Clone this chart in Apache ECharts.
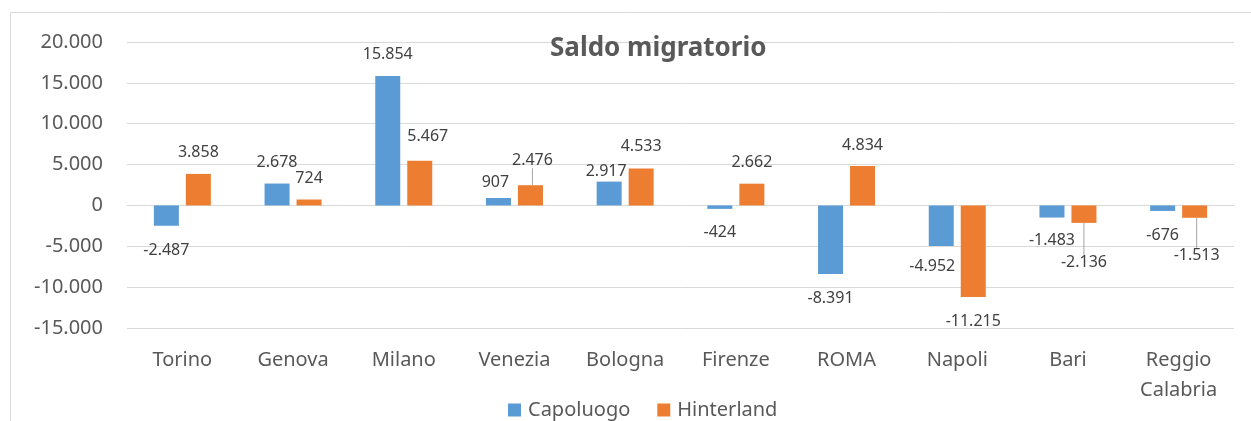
<!DOCTYPE html>
<html>
<head>
<meta charset="utf-8">
<script src="https://cdn.jsdelivr.net/npm/echarts@6/dist/echarts.min.js"></script>
<style>
  html, body { margin: 0; padding: 0; background: #fff; }
  #chart { width: 1251px; height: 421px; }
</style>
</head>
<body>
<div id="chart"></div>
<script>
// dati
const categories = ['Torino', 'Genova', 'Milano', 'Venezia', 'Bologna', 'Firenze', 'ROMA', 'Napoli', 'Bari', 'Reggio\nCalabria']
const capoluogo = [-2487, 2678, 15854, 907, 2917, -424, -8391, -4952, -1483, -676]
const hinterland = [3858, 724, 5467, 2476, 4533, 2662, 4834, -11215, -2136, -1513]
const yTicks = { min: -15000, max: 20000, interval: 5000 }

// spostamenti etichette (come nel grafico excel)
const capOffsets = [[0, 4], [0, 0], [0, 0], [-3, 5], [-3, 11], [0, 3], [0, 3], [-9, 0], [0, 2], [0, 3]]
const hintOffsets = [[0, 0], [0, 0], [8, -3], [2, -4], [0, -1], [0, 0], [0, 1], [0, 3], [0, 19], [2, 17]]
const hintLeader = [false, false, false, true, false, false, false, false, true, true]

const FONT = 'Noto Sans'

function fmt(v) {
  const s = String(Math.abs(v)).replace(/\B(?=(\d{3})+(?!\d))/g, '.')
  return (v < 0 ? '-' : '') + s
}

const myChart = echarts.init(document.getElementById('chart'))

const option = {
  backgroundColor: '#fff',
  textStyle: { fontFamily: FONT },
  graphic: [{
    type: 'rect',
    shape: { x: 10.5, y: 12.5, width: 1300, height: 500 },
    style: { fill: 'none', stroke: '#d9d9d9', lineWidth: 1 },
    silent: true
  }],
  title: {
    text: 'Saldo migratorio',
    left: 545,
    top: 31,
    textStyle: { fontFamily: FONT, fontSize: 26, fontWeight: 'bold', color: '#595959' }
  },
  legend: {
    left: 503,
    top: 395,
    itemWidth: 13,
    itemHeight: 13,
    itemGap: 27,
    icon: 'rect',
    textStyle: { fontFamily: FONT, fontSize: 20, color: '#595959', padding: [0, 0, 0, 2] },
    data: ['Capoluogo', 'Hinterland']
  },
  grid: {
    left: 127,
    right: 17,
    top: 42,
    bottom: 93
  },
  xAxis: {
    type: 'category',
    data: categories,
    axisLine: { show: true, lineStyle: { color: '#d9d9d9', width: 1 } },
    axisTick: { show: false },
    axisLabel: {
      margin: 17,
      fontFamily: FONT,
      fontSize: 20,
      lineHeight: 30,
      color: '#595959'
    }
  },
  yAxis: {
    type: 'value',
    min: yTicks.min,
    max: yTicks.max,
    interval: yTicks.interval,
    axisLine: { show: false },
    axisTick: { show: false },
    splitLine: { lineStyle: { color: '#d9d9d9', width: 1 } },
    axisLabel: {
      margin: 24,
      fontFamily: FONT,
      fontSize: 20,
      color: '#595959',
      formatter: fmt
    }
  },
  series: [
    {
      name: 'Capoluogo',
      type: 'bar',
      barWidth: 25,
      barGap: '28%',
      itemStyle: { color: '#5b9bd5' },
      label: {
        show: true,
        position: 'outside',
        distance: 13,
        fontFamily: FONT,
        fontSize: 16,
        color: '#404040',
        formatter: p => fmt(p.value)
      },
      labelLayout: p => ({ dx: capOffsets[p.dataIndex][0], dy: capOffsets[p.dataIndex][1] }),
      data: capoluogo
    },
    {
      name: 'Hinterland',
      type: 'bar',
      barWidth: 25,
      barGap: '28%',
      itemStyle: { color: '#ed7d31' },
      label: {
        show: true,
        position: 'outside',
        distance: 13,
        fontFamily: FONT,
        fontSize: 16,
        color: '#404040',
        formatter: p => fmt(p.value)
      },
      labelLine: { show: false, lineStyle: { color: '#a6a6a6', width: 1 } },
      labelLayout: p => ({ dx: hintOffsets[p.dataIndex][0], dy: hintOffsets[p.dataIndex][1] }),
      data: hinterland.map((v, i) => hintLeader[i]
        ? { value: v, labelLine: { show: true, lineStyle: { color: '#a6a6a6', width: 1 } } }
        : v)
    }
  ]
}
myChart.setOption(option)
</script>
</body>
</html>
